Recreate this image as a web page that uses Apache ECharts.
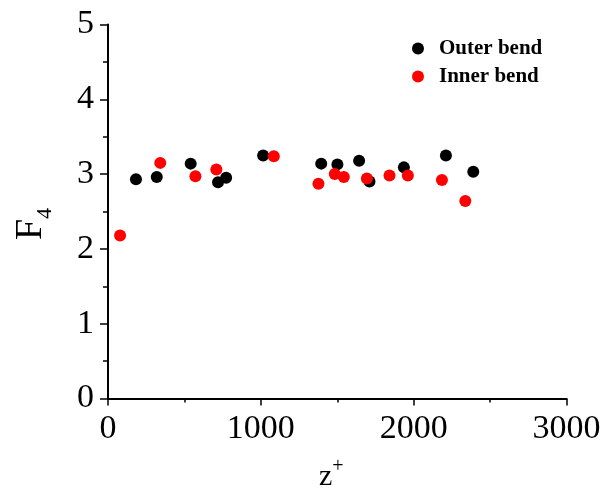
<!DOCTYPE html>
<html>
<head>
<meta charset="utf-8">
<script src="https://cdn.jsdelivr.net/npm/echarts@6/dist/echarts.min.js"></script>
<style>html,body{margin:0;padding:0;background:#fff}#c{width:606px;height:488px}</style>
</head>
<body>
<div id="c"></div>
<script>
var outerX = [183, 319, 541, 720, 773, 1015, 1395, 1501, 1643, 1711, 1936, 2211, 2390];
var outerY = [2.93, 2.96, 3.14, 2.89, 2.95, 3.25, 3.14, 3.13, 3.18, 2.90, 3.09, 3.25, 3.03];
var innerX = [79, 342, 572, 709, 1085, 1377, 1484, 1543, 1694, 1842, 1962, 2185, 2338];
var innerY = [2.18, 3.15, 2.97, 3.06, 3.24, 2.87, 3.00, 2.96, 2.94, 2.98, 2.98, 2.92, 2.64];
var seriesNames = ['Outer bend', 'Inner bend'];

function pairs(xs, ys) { return xs.map(function (x, i) { return [x, ys[i]]; }); }

var font = '"Liberation Serif", "Times New Roman", serif';
var chart = echarts.init(document.getElementById('c'), null, {renderer: 'canvas'});
chart.setOption({
  animation: false,
  backgroundColor: '#fff',
  grid: {left: 108, right: 39.5, top: 24.5, bottom: 89.5, containLabel: false, outerBoundsMode: 'none'},
  legend: {
    orient: 'vertical', left: 407, top: 33,
    itemWidth: 32, itemHeight: 12, itemGap: 7,
    data: seriesNames,
    textStyle: {fontFamily: font, fontWeight: 'bold', fontSize: 21, color: '#000'}
  },
  xAxis: {
    type: 'value', min: 0, max: 3000, interval: 1000,
    name: '{z|z}{p|+}', nameLocation: 'middle', nameGap: 58,
    nameTextStyle: {
      padding: [0, 12, 0, 0],
      rich: {
        z: {fontFamily: font, fontSize: 30, color: '#000', lineHeight: 36, verticalAlign: 'bottom'},
        p: {fontFamily: font, fontSize: 20, color: '#000', lineHeight: 36, verticalAlign: 'top', padding: [0, 0, 14, 0]}
      }
    },
    axisLine: {show: true, lineStyle: {color: '#000', width: 2}},
    axisTick: {show: true, inside: false, length: 7, lineStyle: {color: '#000', width: 1.5}},
    minorTick: {show: true, splitNumber: 2, length: 4, lineStyle: {color: '#000', width: 1.5}},
    splitLine: {show: false},
    axisLabel: {fontFamily: font, fontSize: 34, color: '#000', margin: 14, formatter: function (v) { return String(v); }}
  },
  yAxis: {
    type: 'value', min: 0, max: 5, interval: 1,
    name: '{f|F}{s|4}', nameLocation: 'middle', nameGap: 52, nameRotate: 90,
    nameTextStyle: {
      padding: [0, 25, 0, 0],
      rich: {
        f: {fontFamily: font, fontSize: 38, color: '#000', lineHeight: 50, verticalAlign: 'middle'},
        s: {fontFamily: font, fontSize: 22, color: '#000', lineHeight: 22, verticalAlign: 'bottom', padding: [16, 0, 0, 0]}
      }
    },
    axisLine: {show: true, lineStyle: {color: '#000', width: 2}},
    axisTick: {show: true, inside: false, length: 8, lineStyle: {color: '#000', width: 1.5}},
    minorTick: {show: true, splitNumber: 2, length: 5, lineStyle: {color: '#000', width: 1.5}},
    splitLine: {show: false},
    axisLabel: {fontFamily: font, fontSize: 34, color: '#000', margin: 14, formatter: function (v) { return String(v); }}
  },
  series: [
    {name: seriesNames[0], type: 'scatter', symbol: 'circle', symbolSize: 12,
     itemStyle: {color: '#000000', opacity: 1}, data: pairs(outerX, outerY), z: 2},
    {name: seriesNames[1], type: 'scatter', symbol: 'circle', symbolSize: 12,
     itemStyle: {color: '#ff0000', opacity: 1}, data: pairs(innerX, innerY), z: 3}
  ]
});
</script>
</body>
</html>
